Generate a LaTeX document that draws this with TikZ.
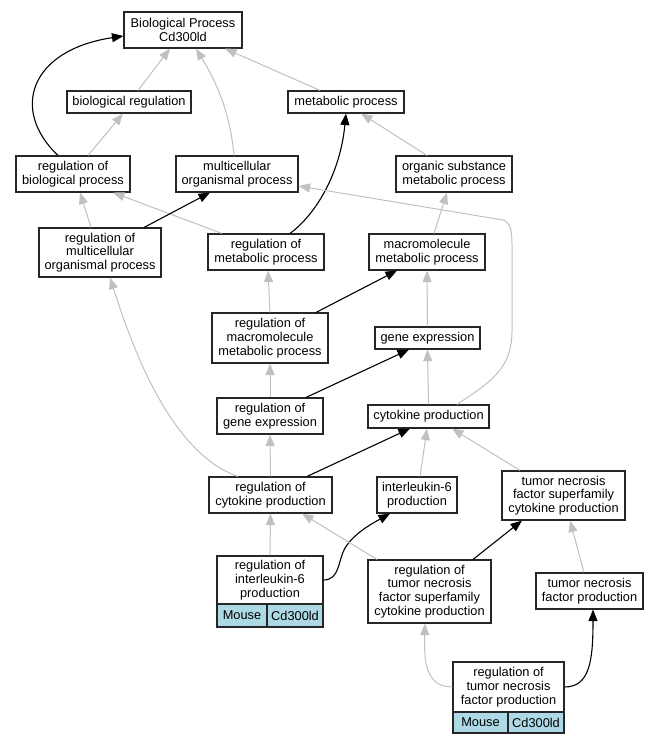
\documentclass[tikz,border=0pt]{standalone}
\usepackage{fontspec}
\setmainfont{Liberation Sans}
\usetikzlibrary{arrows.meta}
\definecolor{edgegray}{HTML}{C0C0C0}
\definecolor{cellblue}{HTML}{ADD8E6}
\begin{document}
\begin{tikzpicture}[x=1pt,y=-1pt,
  box/.style={draw=black!85,line width=1.1pt,fill=white,align=center,inner sep=0pt,font=\fontsize{12.8}{13.7}\selectfont},
  cell/.style={box,fill=cellblue},
  isa/.style={draw=edgegray,line width=1pt,-{Triangle[length=11.5pt,width=9pt]}},
  reg/.style={draw=black,line width=1.1pt,-{Triangle[length=11.5pt,width=9pt]}}]
\useasboundingbox (0,0) rectangle (659,744);
\node[box,minimum width=118pt,minimum height=36pt] (bp) at (183,30) {Biological Process\\Cd300ld};
\node[box,minimum width=124pt,minimum height=22pt] (br) at (129,102) {biological regulation};
\node[box,minimum width=116pt,minimum height=22pt] (mp) at (346,102) {metabolic process};
\node[box,minimum width=114pt,minimum height=36pt] (rbp) at (73,174) {regulation of\\biological process};
\node[box,minimum width=122pt,minimum height=36pt] (mop) at (237,174) {multicellular\\organismal process};
\node[box,minimum width=116pt,minimum height=36pt] (osmp) at (454,174) {organic substance\\metabolic process};
\node[box,minimum width=122pt,minimum height=49pt] (rmop) at (100,252.5) {regulation of\\multicellular\\organismal process};
\node[box,minimum width=116pt,minimum height=36pt] (rmp) at (266,252) {regulation of\\metabolic process};
\node[box,minimum width=116pt,minimum height=36pt] (mmp) at (427,252) {macromolecule\\metabolic process};
\node[box,minimum width=116pt,minimum height=50pt] (rmmp) at (270,338) {regulation of\\macromolecule\\metabolic process};
\node[box,minimum width=105pt,minimum height=22pt] (ge) at (427.5,338) {gene expression};
\node[box,minimum width=106pt,minimum height=36pt] (rge) at (270,416) {regulation of\\gene expression};
\node[box,minimum width=121pt,minimum height=23pt] (cp) at (428.5,416.5) {cytokine production};
\node[box,minimum width=123pt,minimum height=36pt] (rcp) at (270.5,495) {regulation of\\cytokine production};
\node[box,minimum width=80pt,minimum height=36pt] (il6) at (417,495) {interleukin-6\\production};
\node[box,minimum width=123pt,minimum height=49pt] (tnfsf) at (563.5,495.5) {tumor necrosis\\factor superfamily\\cytokine production};
\node[box,minimum width=106pt,minimum height=48pt] (ril6) at (270,580) {regulation of\\interleukin-6\\production};
\node[cell,minimum width=50pt,minimum height=23pt] (mouse1) at (242,615.5) {Mouse};
\node[cell,minimum width=56pt,minimum height=23pt] (gene1) at (295,615.5) {Cd300ld};
\node[box,minimum width=123pt,minimum height=63pt] (rtnfsf) at (429.5,591.5) {regulation of\\tumor necrosis\\factor superfamily\\cytokine production};
\node[box,minimum width=107pt,minimum height=36pt] (tnfp) at (589.5,591) {tumor necrosis\\factor production};
\node[box,minimum width=111pt,minimum height=50pt] (rtnfp) at (508.5,687) {regulation of\\tumor necrosis\\factor production};
\node[cell,minimum width=55pt,minimum height=21pt] (mouse2) at (480.5,722.5) {Mouse};
\node[cell,minimum width=56pt,minimum height=21pt] (gene2) at (536,722.5) {Cd300ld};
% edges
\draw[isa] ([xshift=9pt]br.north) -- ([xshift=-13pt]bp.south);
\draw[isa] ([xshift=-3pt]mop.north) .. controls (230,110) and (215,80) .. ([xshift=13pt]bp.south);
\draw[isa] ([xshift=-26pt]mp.north) -- ([xshift=42pt]bp.south);
\draw[reg] ([xshift=-15pt]rbp.north) .. controls (10,110) and (30,50) .. ([yshift=-6pt]bp.west);
\draw[isa] ([xshift=15pt]rbp.north) -- ([xshift=-6pt]br.south);
\draw[isa] ([xshift=-9pt]rmop.north) -- ([xshift=7pt]rbp.south);
\draw[isa] ([xshift=-44pt]rmp.north) -- ([xshift=40pt]rbp.south);
\draw[reg] ([xshift=44pt]rmop.north) -- ([xshift=-27pt]mop.south);
\draw[reg] ([xshift=24pt]rmp.north) .. controls (315,215) and (340,175) .. (mp.south);
\draw[isa] ([xshift=-27pt]osmp.north) -- ([xshift=15pt]mp.south);
\draw[isa] ([xshift=7pt]mmp.north) -- ([xshift=-7pt]osmp.south);
\draw[isa] (rmmp.north) -- ([xshift=2pt]rmp.south);
\draw[reg] ([xshift=46pt]rmmp.north) -- ([xshift=-30pt]mmp.south);
\draw[isa] (ge.north) -- (mmp.south);
\draw[isa] (rge.north) -- (rmmp.south);
\draw[reg] ([xshift=36pt]rge.north) -- ([xshift=-18.5pt]ge.south);
\draw[isa] (cp.north) -- (ge.south);
\draw[isa] ([xshift=28.5pt]cp.north) .. controls (490,382) and (512,370) .. (512,330) -- (512,245) .. controls (512,230) and (510,222) .. (503,220) -- ([yshift=-12pt]mop.east);
\draw[isa] (rcp.north) -- (rge.south);
\draw[isa] ([xshift=-32.5pt]rcp.north) .. controls (168,452) and (130,340) .. ([xshift=10pt]rmop.south);
\draw[reg] ([xshift=36.5pt]rcp.north) -- ([xshift=-18.5pt]cp.south);
\draw[isa] ([xshift=3pt]il6.north) -- ([xshift=-1.5pt]cp.south);
\draw[isa] ([xshift=-43.5pt]tnfsf.north) -- ([xshift=23.5pt]cp.south);
\draw[isa] (ril6.north) -- (rcp.south);
\draw[reg] (ril6.east) .. controls (340,580) and (338,560) .. (345,548) .. controls (355,532) and (375,522) .. ([xshift=-27pt]il6.south);
\draw[isa] ([xshift=-52.5pt]rtnfsf.north) -- ([xshift=31.5pt]rcp.south);
\draw[reg] ([xshift=43.5pt]rtnfsf.north) -- ([xshift=-41.5pt]tnfsf.south);
\draw[isa] ([xshift=-5.5pt]tnfp.north) -- ([xshift=6.5pt]tnfsf.south);
\draw[isa] (rtnfp.west) .. controls (425,687) and (424,660) .. ([xshift=-4.5pt]rtnfsf.south);
\draw[reg] (rtnfp.east) .. controls (590,687) and (593,660) .. ([xshift=3.5pt]tnfp.south);
\end{tikzpicture}
\end{document}
